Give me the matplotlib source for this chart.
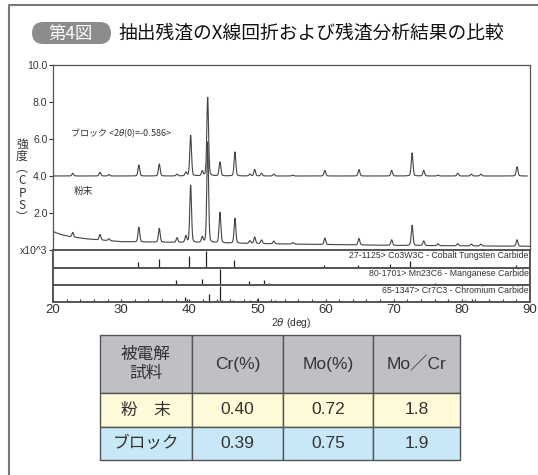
import matplotlib
matplotlib.use("Agg")
import matplotlib.pyplot as plt
from matplotlib.patches import Rectangle, FancyBboxPatch
import numpy as np

plt.rcParams['font.family'] = ['Liberation Sans', 'Noto Sans CJK JP', 'DejaVu Sans']
JP = ['Noto Sans CJK JP', 'DejaVu Sans']

W, H = 538, 475

# --- XRD data: (2theta, peak height above baseline) ---
block_pos = [22.9, 26.9, 28.2, 32.6, 35.6, 38.2, 39.5, 40.2, 41.9, 42.7, 44.5, 46.7,
             48.9, 49.6, 50.6, 52.4, 55.2, 59.9, 64.9, 69.7, 72.7, 74.4, 76.5, 79.4,
             81.4, 82.8, 88.1]
block_h = [0.15, 0.2, 0.08, 0.6, 0.65, 0.1, 0.2, 2.2, 0.25, 4.25, 0.75, 1.3,
           0.1, 0.35, 0.15, 0.1, 0.05, 0.3, 0.35, 0.3, 1.25, 0.3, 0.05, 0.15,
           0.1, 0.1, 0.5]
block_base = 4.0

powder_h = [0.25, 0.3, 0.1, 0.8, 0.75, 0.25, 0.35, 3.1, 0.3, 5.45, 1.65, 1.35,
            0.15, 0.35, 0.2, 0.15, 0.08, 0.35, 0.35, 0.3, 1.1, 0.25, 0.1, 0.12,
            0.1, 0.1, 0.35]
powder_base_x = [20, 21, 22.5, 25, 30, 40, 55, 70, 90]
powder_base_y = [1.0, 0.85, 0.72, 0.6, 0.45, 0.4, 0.32, 0.25, 0.2]

# reference cards: position, relative intensity
cards = [
    ("27-1125> Co3W3C - Cobalt Tungsten Carbide",
     [22.8, 26.8, 28.1, 32.5, 35.6, 40.0, 42.5, 46.6, 53.3, 54.8, 59.7, 62.6, 64.8,
      69.5, 72.4, 74.6, 77.5, 80.5, 83.0, 86.0, 88.0],
     [0.08, 0.06, 0.06, 0.35, 0.5, 0.72, 1.0, 0.45, 0.06, 0.06, 0.18, 0.06, 0.15,
      0.22, 0.42, 0.08, 0.06, 0.06, 0.08, 0.06, 0.15]),
    ("80-1701> Mn23C6 - Manganese Carbide",
     [23.8, 28.1, 29.3, 33.9, 38.0, 41.9, 44.5, 48.7, 51.0, 51.7, 54.5, 57.7,
      62.0, 65.0, 68.5, 72.0, 76.0, 79.5, 82.5],
     [0.05, 0.05, 0.05, 0.06, 0.3, 0.38, 1.0, 0.25, 0.32, 0.15, 0.06, 0.08,
      0.05, 0.05, 0.06, 0.06, 0.1, 0.08, 0.06]),
    ("65-1347> Cr7C3 - Chromium Carbide",
     [22.0, 25.0, 27.5, 33.0, 35.5, 39.4, 39.7, 42.0, 42.9, 44.5, 44.8, 46.4,
      48.9, 50.1, 52.6, 55.0, 57.5, 60.0, 62.5, 65.8, 68.0, 71.0, 73.5, 76.0,
      78.0, 80.5, 81.5, 83.5, 86.0, 88.5],
     [0.05, 0.05, 0.05, 0.05, 0.05, 0.3, 0.2, 0.15, 0.5, 1.0, 0.15, 0.1,
      0.15, 0.25, 0.1, 0.06, 0.06, 0.06, 0.08, 0.06, 0.08, 0.08, 0.08, 0.1,
      0.1, 0.15, 0.2, 0.08, 0.08, 0.08]),
]

# --- table data ---
col_labels = ["被電解\n試料", "Cr(%)", "Mo(%)", "Mo／Cr"]
row_labels = ["粉　末", "ブロック"]
cr_vals = ["0.40", "0.39"]
mo_vals = ["0.72", "0.75"]
ratio_vals = ["1.8", "1.9"]


def peaks(x, pos, h, fwhm=0.3):
    y = np.zeros_like(x)
    for p, a in zip(pos, h):
        g = np.exp(-4 * np.log(2) * ((x - p) / fwhm) ** 2)
        l = 1 / (1 + 4 * ((x - p) / fwhm) ** 2)
        y += a * (0.75 * g + 0.25 * l)
    return y


def fax(l, t, r, b):
    return fig.add_axes([l / W, 1 - b / H, (r - l) / W, (b - t) / H])


fig = plt.figure(figsize=(W / 100, H / 100), dpi=100)

# overlay in pixel coordinates for frame, title badge and table
ov = fig.add_axes([0, 0, 1, 1])
ov.set_xlim(0, W)
ov.set_ylim(H, 0)
ov.axis('off')
ov.plot([9, 9, W], [H, 5, 5], color='#777777', lw=1.5)
ov.add_patch(FancyBboxPatch((32, 22), 79, 22, boxstyle="round,pad=0,rounding_size=11",
                            fc='#8c8c8c', ec='none'))
ov.text(71, 33.5, "第4図", family=JP, color='white', fontsize=12.5,
        ha='center', va='center')
ov.text(118, 33, "抽出残渣のX線回折および残渣分析結果の比較", family=JP,
        color='#111111', fontsize=13.5, ha='left', va='center')

xs = [100, 192, 283, 373, 460]
ys = [335, 393, 427, 460]
fills = ['#bfc0c4', '#fffad8', '#c8e8f8']
rows = [col_labels,
        [row_labels[0], cr_vals[0], mo_vals[0], ratio_vals[0]],
        [row_labels[1], cr_vals[1], mo_vals[1], ratio_vals[1]]]
for i, row in enumerate(rows):
    for j, txt in enumerate(row):
        ov.add_patch(Rectangle((xs[j], ys[i]), xs[j + 1] - xs[j], ys[i + 1] - ys[i],
                               fc=fills[i], ec='#555555', lw=1.0))
        ov.text((xs[j] + xs[j + 1]) / 2, (ys[i] + ys[i + 1]) / 2, txt,
                family=JP if j == 0 else ['Liberation Sans', 'Noto Sans CJK JP'],
                fontsize=12 if j == 0 else 12.5, color='#333333',
                ha='center', va='center', linespacing=1.15)

# main XRD panel
ax = fax(53, 65, 530, 250)
x = np.linspace(20, 90, 4000)
xb = x[x <= 89.6]
ax.plot(xb, block_base + peaks(xb, block_pos, block_h), color='#444444', lw=0.8)
ax.plot(x, np.interp(x, powder_base_x, powder_base_y) + peaks(x, block_pos, powder_h),
        color='#444444', lw=0.8)
ax.set_xlim(20, 90)
ax.set_ylim(0, 10)
ax.set_yticks([0, 2, 4, 6, 8, 10])
ax.set_yticklabels(["x10^3", "2.0", "4.0", "6.0", "8.0", "10.0"])
ax.set_xticks([])
ax.tick_params(axis='y', labelsize=7.5, length=3, width=0.8, pad=1, colors='#333333')
for s in ax.spines.values():
    s.set_color('#555555')
    s.set_linewidth(0.9)
ax.text(22.5, 6.3, "ブロック <2$\\theta$(0)=-0.586>", family=JP, fontsize=6.5,
        color='#333333', va='center')
ax.text(23.0, 3.2, "粉末", family=JP, fontsize=7, color='#333333', va='center')

# stick panels
tops = [250, 268, 285, 302]
for k, (name, pos, inten) in enumerate(cards):
    a = fax(53, tops[k], 530, tops[k + 1])
    a.vlines(pos, 0, inten, color='#222222', lw=0.9)
    a.set_xlim(20, 90)
    a.set_ylim(0, 1.05)
    a.set_yticks([])
    a.text(89.8, 1.0, name, fontsize=6.3, color='#333333', ha='right', va='top')
    for s in a.spines.values():
        s.set_color('#555555')
        s.set_linewidth(1.4)
    if k < 2:
        a.set_xticks([])
    else:
        a.set_xticks(range(20, 91, 10))
        a.set_xticks(range(20, 91, 2), minor=True)
        a.tick_params(axis='x', which='both', direction='in', length=2, width=0.8,
                      labelsize=9.5, pad=1.5, colors='#333333')
        a.set_xlabel("2$\\theta$ (deg)", fontsize=7.5, color='#333333', labelpad=0)

# vertical y label
fig.text(22 / W, 1 - 181 / H, "強\n度\n︵\nC\nP\nS\n︶", family=JP, fontsize=8.5,
         color='#333333', ha='center', va='center', linespacing=0.92)

fig.savefig("out.png", dpi=100)
